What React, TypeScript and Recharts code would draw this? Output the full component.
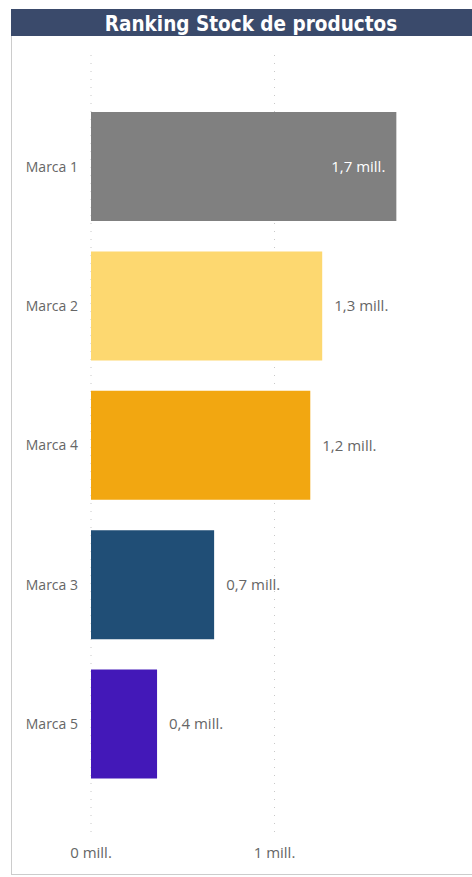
import { BarChart, Bar, XAxis, YAxis, CartesianGrid, Cell, LabelList } from 'recharts';

const brands = ['Marca 1', 'Marca 2', 'Marca 4', 'Marca 3', 'Marca 5'];
const stock = [1664000, 1260000, 1195000, 671000, 360000];
const barColors = ['#808080', '#FDD870', '#F2A711', '#204E76', '#4318B8'];
const xTicks = [0, 1000000];

const data = brands.map((name, i) => ({ name, value: stock[i], color: barColors[i] }));

const fmt = (v: number) => (v === 0 ? '0' : (v / 1e6).toFixed(1).replace('.', ',')) + ' mill.';
const tickFmt = (v: number) => `${v / 1e6} mill.`;

const FONT = '"Segoe UI", "Open Sans", sans-serif';

const ValueLabel = (props: any) => {
  const { x, y, width, height, value } = props;
  const inside = value > 1500000;
  return (
    <text
      x={inside ? x + width - 11 : x + width + 12}
      y={y + height / 2}
      dy="0.35em"
      textAnchor={inside ? 'end' : 'start'}
      fill={inside ? '#ffffff' : '#666666'}
      fontSize={15}
      fontFamily={FONT}
    >
      {fmt(value)}
    </text>
  );
};

const App = () => {
  return (
    <div style={{ position: 'absolute', left: 0, top: 0, width: 472, height: 877, background: '#fff', overflow: 'hidden' }}>
      <div
        style={{
          position: 'absolute',
          left: 11,
          top: 9,
          width: 480,
          height: 866,
          border: '1px solid #cccccc',
          boxSizing: 'border-box',
        }}
      />
      <div
        style={{
          position: 'absolute',
          left: 11,
          top: 9,
          width: 480,
          height: 27,
          overflow: 'hidden',
          background: '#3A4A6B',
          color: '#ffffff',
          fontFamily: '"DejaVu Sans Condensed", sans-serif',
          fontWeight: 600,
          fontSize: 20.5,
          lineHeight: '31px',
          textAlign: 'center',
        }}
      >
        Ranking Stock de productos
      </div>
      <div style={{ position: 'absolute', left: 0, top: 0 }}>
        <BarChart
          width={472}
          height={877}
          data={data}
          layout="vertical"
          margin={{ top: 55, right: 14, bottom: 10, left: 0 }}
          barSize={109}
        >
          <CartesianGrid horizontal={false} syncWithTicks stroke="#c8c8c8" strokeDasharray="1 7" />
          <XAxis
            type="number"
            domain={[0, 2000000]}
            ticks={xTicks}
            tickFormatter={tickFmt}
            axisLine={false}
            tickLine={false}
            tickMargin={4}
            height={30}
            tick={{ fill: '#666666', fontSize: 15, fontFamily: FONT }}
          />
          <YAxis
            type="category"
            dataKey="name"
            width={91}
            axisLine={false}
            tickLine={false}
            tickMargin={7}
            padding={{ top: 42, bottom: 43 }}
            tick={{ fill: '#666666', fontSize: 14, fontFamily: FONT }}
          />
          <Bar dataKey="value" isAnimationActive={false}>
            {data.map((d, i) => (
              <Cell key={`cell-${i}`} fill={d.color} />
            ))}
            <LabelList dataKey="value" content={ValueLabel} />
          </Bar>
        </BarChart>
      </div>
    </div>
  );
};

export default App;
